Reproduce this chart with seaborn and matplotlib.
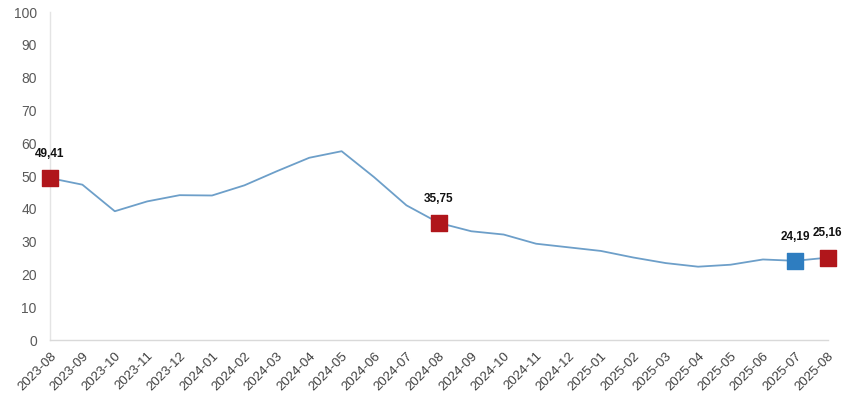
import numpy as np
import pandas as pd
import matplotlib
matplotlib.use("Agg")
import matplotlib.pyplot as plt
import seaborn as sns

months = ["2023-08", "2023-09", "2023-10", "2023-11", "2023-12", "2024-01", "2024-02",
          "2024-03", "2024-04", "2024-05", "2024-06", "2024-07", "2024-08", "2024-09",
          "2024-10", "2024-11", "2024-12", "2025-01", "2025-02", "2025-03", "2025-04",
          "2025-05", "2025-06", "2025-07", "2025-08"]
values = [49.41, 47.4, 39.3, 42.3, 44.2, 44.1, 47.2, 51.5, 55.6, 57.6, 49.7, 41.1, 35.75,
          33.2, 32.2, 29.4, 28.3, 27.2, 25.2, 23.5, 22.4, 23.0, 24.6, 24.19, 25.16]

# highlighted points: month, label, colour
highlight_months = ["2023-08", "2024-08", "2025-07", "2025-08"]
highlight_labels = ["49,41", "35,75", "24,19", "25,16"]
highlight_colors = ["#b0161b", "#b0161b", "#2e7dc0", "#b0161b"]

df = pd.DataFrame({"month": months, "value": values})
df["pos"] = np.arange(len(df))

sns.set_style("white")
plt.rcParams["font.family"] = ["Liberation Sans", "DejaVu Sans"]

fig = plt.figure(figsize=(8.5, 4.04), dpi=100)
ax = fig.add_axes([0.0588, 0.158, 0.915, 0.812])

sns.lineplot(data=df, x="pos", y="value", color="#6d9fc9", linewidth=1.3, ax=ax)

for m, lab, col in zip(highlight_months, highlight_labels, highlight_colors):
    row = df[df["month"] == m].iloc[0]
    ax.scatter(row["pos"], row["value"], marker="s", s=130, color=col,
               edgecolors=col, zorder=5, clip_on=False)
    ax.annotate(lab, (row["pos"], row["value"]), xytext=(0, 17.5),
                textcoords="offset points", ha="center", va="center",
                fontsize=8.5, fontweight="bold", color="#111111")

ax.set_xlim(0, len(months) - 1)
ax.set_ylim(0, 100)
ax.set_yticks(range(0, 101, 10))
ax.set_xticks(df["pos"])
ax.set_xticklabels(months, rotation=45, ha="right", rotation_mode="anchor",
                   fontsize=9.5, color="#404040")
ax.tick_params(axis="y", labelsize=10, colors="#595959", length=0, pad=9.5)
ax.tick_params(axis="x", length=0, pad=7)
ax.set_xlabel("")
ax.set_ylabel("")

for s in ["top", "right"]:
    ax.spines[s].set_visible(False)
ax.spines["left"].set_color("#e4e4e4")
ax.spines["bottom"].set_color("#d9d9d9")
ax.spines["left"].set_linewidth(1)
ax.spines["bottom"].set_linewidth(1)

fig.savefig("out.png", dpi=100)
